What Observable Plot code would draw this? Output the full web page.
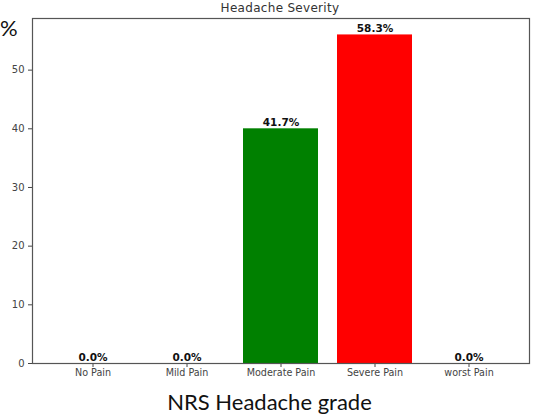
<!DOCTYPE html>
<html>
<head>
<meta charset="utf-8">
<script src="https://cdn.jsdelivr.net/npm/d3@7"></script>
<script src="https://cdn.jsdelivr.net/npm/@observablehq/plot@0.6"></script>
<style>
  html, body { margin: 0; padding: 0; background: #fff; }
  #wrap { position: relative; width: 537px; height: 417px; overflow: hidden; }
  .lbl { position: absolute; white-space: nowrap; }
  #title { left: 0; width: 560px; top: 1px; text-align: center; font: 12px "DejaVu Sans", sans-serif; color: #333; letter-spacing: 0.3px; }
  #pct { left: 0px; top: 14px; font: 22px Lato, "Noto Sans", sans-serif; color: #111; }
  #xlab { left: 0; width: 539px; top: 388px; text-align: center; font: 22px Lato, "Noto Sans", sans-serif; color: #111; }
</style>
</head>
<body>
<div id="wrap">
  <div id="chart"></div>
  <div class="lbl" id="title">Headache Severity</div>
  <div class="lbl" id="pct">%</div>
  <div class="lbl" id="xlab">NRS Headache grade</div>
</div>
<script>
const categories = ["No Pain", "Mild Pain", "Moderate Pain", "Severe Pain", "worst Pain"];
const values = [0, 0, 40, 56, 0];
const valueLabels = ["0.0%", "0.0%", "41.7%", "58.3%", "0.0%"];
const barColors = ["#1f77b4", "#ff7f0e", "#008000", "#ff0000", "#9467bd"];
const yTicks = [0, 10, 20, 30, 40, 50];

const data = categories.map((c, i) => ({cat: c, value: values[i], label: valueLabels[i], color: barColors[i]}));

const chart = Plot.plot({
  width: 537,
  height: 417,
  marginTop: 18,
  marginBottom: 54,
  marginLeft: 32,
  marginRight: 8,
  style: {fontFamily: "DejaVu Sans, sans-serif", fontSize: "10px", color: "#444", background: "#fff"},
  x: {domain: categories, paddingInner: 0.2, paddingOuter: 0.24},
  y: {domain: [0, 58.8]},
  marks: [
    Plot.barY(data, {x: "cat", y: "value", fill: "color"}),
    Plot.axisX({label: null, tickSize: 4, tickPadding: 2, fontSize: 9.6, stroke: "#444"}),
    Plot.axisY(yTicks, {label: null, tickSize: 4, tickPadding: 4, fontSize: 10, stroke: "#444"}),
    Plot.text(data, {x: "cat", y: "value", text: "label", dy: -6, fontWeight: "bold", fill: "#111", fontSize: 10.5}),
    Plot.frame({stroke: "#555", strokeWidth: 1.2})
  ]
});
document.getElementById("chart").appendChild(chart);
</script>
</body>
</html>
